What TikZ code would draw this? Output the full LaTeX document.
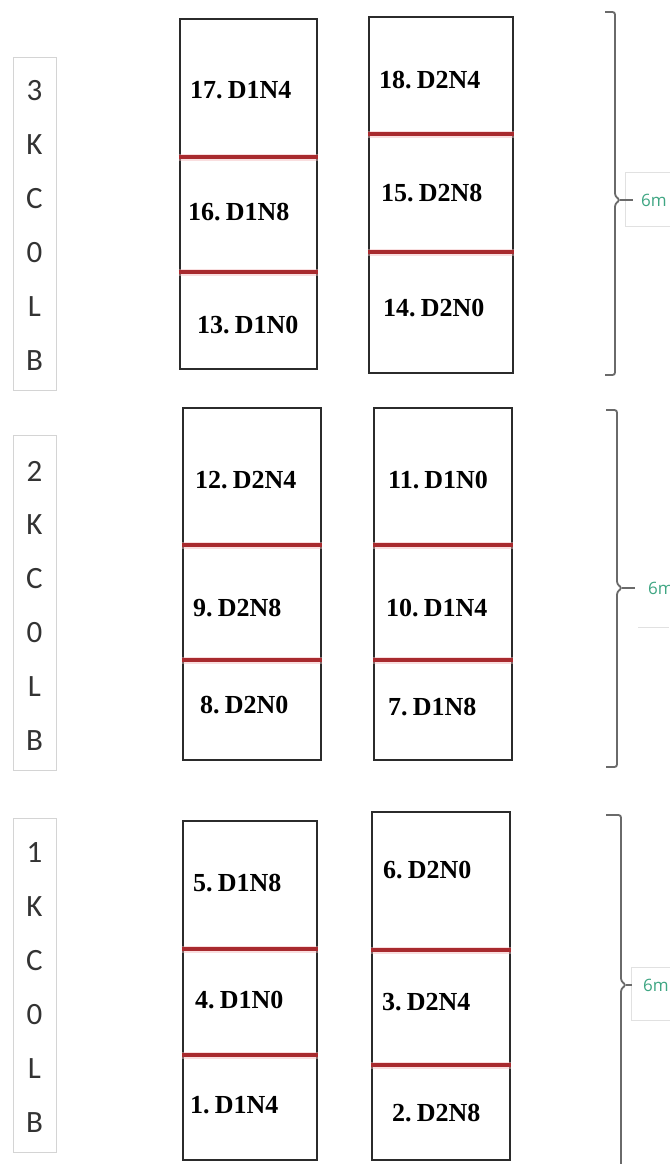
\documentclass[tikz,border=0pt]{standalone}
\usepackage{fontspec}
\setmainfont{Liberation Serif}
\newfontfamily\lettersfont{Carlito}
\newfontfamily\tagfont{Open Sans}
\definecolor{boxline}{HTML}{2B2B2B}
\definecolor{cutred}{HTML}{A82A2E}
\definecolor{cutglow}{HTML}{F2B8BA}
\definecolor{framegray}{HTML}{D4D4D4}
\definecolor{bracegray}{HTML}{6A6A6A}
\definecolor{tagteal}{HTML}{3FA683}
\definecolor{lettergray}{HTML}{333333}
\tikzset{
  x=1pt, y=-1pt,
  strip/.style={draw=boxline, line width=2.2pt, rectangle, inner sep=0pt},
  cutline/.style={cutred, line width=3.4pt},
  cutglowline/.style={cutglow, line width=7pt, opacity=0.45},
  plotlabel/.style={anchor=west, inner sep=0pt, font=\fontsize{26}{26}\selectfont\bfseries},
  letterframe/.style={draw=framegray, line width=0.9pt, rectangle, inner sep=0pt},
  letter/.style={inner sep=0pt, text=lettergray, font=\lettersfont\fontsize{31}{31}\selectfont},
  bracket/.style={draw=bracegray, line width=1.8pt, rounded corners=2.5pt},
  tagframe/.style={draw=framegray!70, line width=0.8pt, fill=white, rectangle, inner sep=0pt},
  tag/.style={anchor=west, inner sep=0pt, text=tagteal, font=\tagfont\fontsize{17}{17}\selectfont},
}
% number, a narrow gap, then the plot code
\newcommand{\plottext}[2]{#1.\hspace{0.2em}#2}
\begin{document}
\begin{tikzpicture}
\useasboundingbox (0,0) rectangle (669,1164);
\fill[white] (0,0) rectangle (669,1164);

% ---------- vertical block labels ----------
\node[letterframe, minimum width=43pt, minimum height=333pt] (lab3) at (34.5,223.5) {};
\node[letterframe, minimum width=43pt, minimum height=335pt] (lab2) at (34.5,602.5) {};
\node[letterframe, minimum width=43pt, minimum height=334pt] (lab1) at (34.5,985) {};
\foreach \ch [count=\i from 0] in {3,K,C,0,L,B}
  \node[letter] (l3\i) at (34.5,{91+54*\i}) {\ch};
\foreach \ch [count=\i from 0] in {2,K,C,0,L,B}
  \node[letter] (l2\i) at (34.5,{471+54*\i}) {\ch};
\foreach \ch [count=\i from 0] in {1,K,C,0,L,B}
  \node[letter] (l1\i) at (34.5,{853+54*\i}) {\ch};

% ---------- plot strips ----------
% block 3
\node[strip, minimum width=137pt, minimum height=350pt] (s3L) at (248.5,194) {};
\node[strip, minimum width=144pt, minimum height=356pt] (s3R) at (441,195) {};
% block 2
\node[strip, minimum width=138pt, minimum height=352pt] (s2L) at (252,584) {};
\node[strip, minimum width=138pt, minimum height=352pt] (s2R) at (443,584) {};
% block 1
\node[strip, minimum width=134pt, minimum height=339pt] (s1L) at (250,990.5) {};
\node[strip, minimum width=138pt, minimum height=348pt] (s1R) at (441,986) {};

% ---------- red cut lines ----------
\foreach \s/\ya/\yb in {s3L/157/272, s3R/134/252, s2L/545/660, s2R/545/660, s1L/949/1055, s1R/950/1065}{
  \draw[cutglowline] (\s.west |- 0,\ya) -- (\s.east |- 0,\ya);
  \draw[cutglowline] (\s.west |- 0,\yb) -- (\s.east |- 0,\yb);
  \draw[cutline] (\s.west |- 0,\ya) -- (\s.east |- 0,\ya);
  \draw[cutline] (\s.west |- 0,\yb) -- (\s.east |- 0,\yb);
}

% ---------- plot labels ----------
\node[plotlabel] (p17) at (190,90)  {\plottext{17}{D1N4}};
\node[plotlabel] (p16) at (188,212) {\plottext{16}{D1N8}};
\node[plotlabel] (p13) at (197,325) {\plottext{13}{D1N0}};
\node[plotlabel] (p18) at (379,80)  {\plottext{18}{D2N4}};
\node[plotlabel] (p15) at (381,193) {\plottext{15}{D2N8}};
\node[plotlabel] (p14) at (383,308) {\plottext{14}{D2N0}};

\node[plotlabel] (p12) at (195,480) {\plottext{12}{D2N4}};
\node[plotlabel] (p9)  at (193,608) {\plottext{9}{D2N8}};
\node[plotlabel] (p8)  at (200,705) {\plottext{8}{D2N0}};
\node[plotlabel] (p11) at (388,480) {\plottext{11}{D1N0}};
\node[plotlabel] (p10) at (386,608) {\plottext{10}{D1N4}};
\node[plotlabel] (p7)  at (388,707) {\plottext{7}{D1N8}};

\node[plotlabel] (p5) at (193,883)  {\plottext{5}{D1N8}};
\node[plotlabel] (p4) at (195,1000) {\plottext{4}{D1N0}};
\node[plotlabel] (p1) at (190,1105) {\plottext{1}{D1N4}};
\node[plotlabel] (p6) at (383,870)  {\plottext{6}{D2N0}};
\node[plotlabel] (p3) at (382,1002) {\plottext{3}{D2N4}};
\node[plotlabel] (p2) at (392,1113) {\plottext{2}{D2N8}};

% ---------- width tags ----------
\node[tagframe, minimum width=56pt, minimum height=54pt] (f3) at (653,199) {};
\node[tag] (w3) at (641,200) {6m};
\draw[framegray!70, line width=0.8pt] (638,627) -- (669,627);
\node[tag] (w2) at (648,588) {6m};
\node[tagframe, minimum width=50pt, minimum height=53pt] (f1) at (656,993.5) {};
\node[tag] (w1) at (643,985) {6m};

% ---------- braces ----------
\coordinate (t3) at (633,200);
\coordinate (t2) at (635,588);
\coordinate (t1) at (632,985);
\draw[bracket] (605,12) -| (615,196) -- (620,200) -- (615,204) |- (605,375);
\draw[bracegray, line width=1.8pt] (620,200) -- (t3);
\draw[bracket] (606,410) -| (617,584) -- (622,588) -- (617,592) |- (606,767);
\draw[bracegray, line width=1.8pt] (622,588) -- (t2);
\draw[bracket] (606,815) -| (621,981) -- (626,985) -- (621,989) -- (621,1170);
\draw[bracegray, line width=1.8pt] (626,985) -- (t1);
\end{tikzpicture}
\end{document}
